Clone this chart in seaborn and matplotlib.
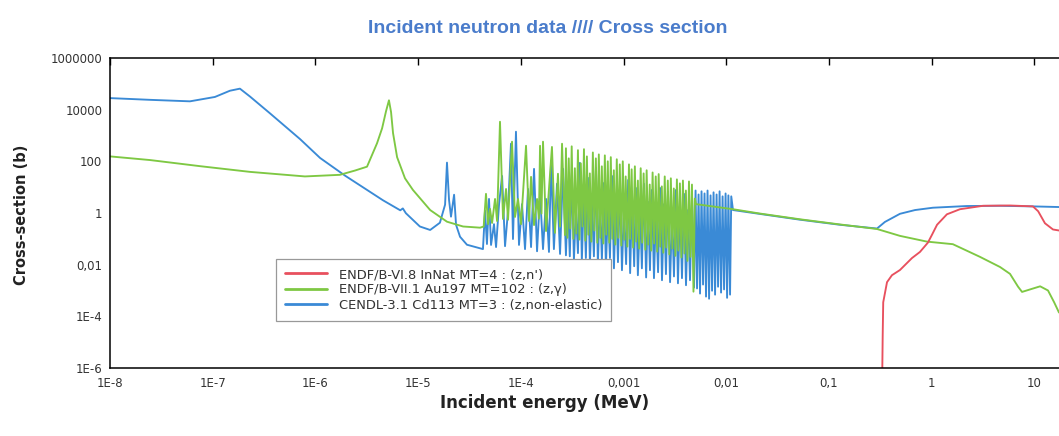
import matplotlib
matplotlib.use("Agg")
import numpy as np
import pandas as pd
import matplotlib.pyplot as plt
from matplotlib.lines import Line2D
from matplotlib.ticker import NullLocator, FixedLocator, FixedFormatter
import seaborn as sns

# ---------------- data (energy in MeV, cross-section in barns) ----------------
TITLE = "Incident neutron data //// Cross section"
XLABEL = "Incident energy (MeV)"
YLABEL = "Cross-section (b)"

series_names = [
    "ENDF/B-VI.8 InNat MT=4 : (z,n')",
    "ENDF/B-VII.1 Au197 MT=102 : (z,\u03b3)",
    "CENDL-3.1 Cd113 MT=3 : (z,non-elastic)",
]
series_colors = ["#e8505e", "#7ec843", "#3a8ad6"]

# In-nat (n,n') : red
red_energy = [0.329, 0.334, 0.338, 0.368, 0.411, 0.492, 0.575, 0.644, 0.77, 0.92, 1.01,
              1.13, 1.41, 1.89, 3.17, 5.8, 9.7, 10.9, 12.7, 15.2, 17.4]
red_xs = [1e-7, 1.8e-5, 3.5e-4, 2.1e-3, 3.9e-3, 6.2e-3, 0.0115, 0.018, 0.031, 0.071, 0.145,
          0.35, 0.89, 1.4, 1.9, 1.95, 1.8, 1.17, 0.40, 0.23, 0.21]

# Au197 capture : green
green_energy = [
    1e-8, 2.45e-8, 7.5e-8, 2.31e-7, 7.9e-7, 1.73e-6, 2.43e-6, 3.18e-6, 3.98e-6, 4.46e-6,
    4.87e-6, 5.2e-6, 5.45e-6, 5.7e-6, 6.24e-6, 7.45e-6, 8.9e-6, 1.31e-5, 1.91e-5, 2.74e-5,
    4.01e-5, 4.35e-5,
    4.58e-5, 4.80e-5, 5.01e-5, 5.25e-5, 5.61e-5, 5.87e-5, 6.27e-5, 6.71e-5, 7.18e-5, 7.51e-5,
    8.21e-5, 8.78e-5, 9.39e-5, 1.005e-4, 1.124e-4, 1.202e-4, 1.258e-4, 1.345e-4, 1.439e-4,
    1.50e-4, 1.539e-4, 1.59e-4, 1.645e-4, 1.76e-4, 1.88e-4, 2.01e-4, 2.15e-4, 2.30e-4,
    2.41e-4, 2.52e-4, 2.69e-4,
    2.75e-4, 2.84e-4, 2.93e-4, 3.03e-4, 3.13e-4, 3.25e-4, 3.36e-4, 3.47e-4, 3.60e-4, 3.72e-4,
    3.84e-4, 3.98e-4, 4.12e-4, 4.25e-4, 4.40e-4, 4.55e-4, 4.70e-4, 4.86e-4, 5.03e-4, 5.20e-4,
    5.38e-4, 5.56e-4, 5.75e-4, 5.95e-4, 6.15e-4, 6.36e-4, 6.58e-4, 6.80e-4, 7.03e-4, 7.27e-4,
    7.52e-4, 7.78e-4, 8.05e-4, 8.32e-4, 8.60e-4, 8.90e-4, 9.20e-4, 9.52e-4, 9.84e-4, 1.02e-3,
    1.05e-3, 1.09e-3, 1.13e-3, 1.16e-3, 1.20e-3, 1.24e-3, 1.29e-3, 1.33e-3, 1.38e-3, 1.42e-3,
    1.47e-3, 1.52e-3, 1.57e-3, 1.63e-3, 1.68e-3, 1.74e-3, 1.80e-3, 1.86e-3, 1.92e-3, 1.99e-3,
    2.06e-3, 2.13e-3, 2.20e-3, 2.28e-3, 2.36e-3, 2.44e-3, 2.52e-3, 2.61e-3, 2.70e-3, 2.79e-3,
    2.89e-3, 2.99e-3, 3.09e-3, 3.20e-3, 3.31e-3, 3.42e-3, 3.54e-3, 3.66e-3, 3.79e-3, 3.92e-3,
    4.05e-3, 4.19e-3, 4.34e-3, 4.49e-3, 4.64e-3, 4.80e-3, 4.95e-3,
    5.08e-3, 0.01164, 0.0213, 0.0523, 0.128, 0.294, 0.492, 0.90, 1.61, 2.96, 4.64, 5.8,
    6.95, 7.6, 9.1, 11.4, 13.6, 15.6, 17.4,
]
green_xs = [
    155, 112, 65, 39, 26, 30, 44, 62, 500, 1900,
    8700, 2.3e4, 8100, 1230, 145, 22, 7.8, 1.3, 0.46, 0.30,
    0.27, 0.30,
    5.5, 0.37, 1.45, 0.41, 3.5, 0.49, 3400, 0.59, 8.5, 0.55,
    575, 0.70, 3.5, 0.37, 400, 0.49, 25, 0.34, 3.5,
    0.6, 400, 0.95, 575, 0.20, 8.5, 360, 0.17, 33,
    0.3, 480, 0.14,
    320, 0.11, 130, 0.25, 380, 0.10, 54, 0.16, 270, 0.093,
    83, 0.30, 295, 0.085, 155, 0.145, 34, 0.078, 220, 0.21,
    130, 0.071, 185, 0.11, 64, 0.066, 170, 0.145, 100, 0.071,
    145, 0.10, 45, 0.060, 120, 0.11, 76, 0.055, 100, 0.093,
    26, 0.050, 76, 0.10, 49, 0.046, 64, 0.078, 18, 0.042,
    54, 0.071, 34, 0.038, 45, 0.060, 12.6, 0.035, 37, 0.066,
    26, 0.032, 32, 0.050, 10.7, 0.029, 26, 0.046, 18, 0.025,
    22, 0.042, 8.9, 0.022, 20, 0.035, 14, 0.019, 18, 0.027,
    7.4, 0.014, 16.6, 0.020, 12.6, 9e-4, 3.6,
    2.2, 1.4, 0.95, 0.57, 0.36, 0.24, 0.13, 0.078, 0.062, 0.020, 8.1e-3, 4.4e-3,
    1.4e-3, 8.8e-4, 1.1e-3, 1.45e-3, 1.0e-3, 3.5e-4, 1.4e-4,
]

# Cd113 non-elastic : blue
blue_energy = [
    1e-8, 2.45e-8, 6.0e-8, 1.05e-7, 1.47e-7, 1.84e-7, 2.31e-7, 3.61e-7, 7.1e-7, 1.11e-6,
    1.94e-6, 4.55e-6, 6.7e-6, 7.1e-6, 7.6e-6, 1.04e-5, 1.31e-5, 1.63e-5, 1.83e-5, 1.91e-5,
    2.0e-5, 2.09e-5, 2.24e-5, 2.34e-5, 2.56e-5, 2.99e-5, 4.28e-5,
    4.48e-5, 4.68e-5, 4.90e-5, 5.13e-5, 5.48e-5, 5.74e-5, 6.14e-5, 6.57e-5, 7.02e-5, 7.51e-5,
    8.02e-5, 8.39e-5, 8.97e-5, 9.60e-5, 1.027e-4, 1.099e-4, 1.175e-4, 1.258e-4, 1.345e-4,
    1.439e-4, 1.539e-4, 1.645e-4, 1.76e-4, 1.88e-4, 1.97e-4, 2.10e-4, 2.25e-4, 2.41e-4,
    2.58e-4, 2.75e-4,
    2.87e-4, 3.00e-4, 3.14e-4, 3.29e-4, 3.44e-4, 3.60e-4, 3.76e-4, 3.93e-4, 4.11e-4, 4.30e-4,
    4.50e-4, 4.71e-4, 4.92e-4, 5.15e-4, 5.39e-4, 5.63e-4, 5.89e-4, 6.16e-4, 6.45e-4, 6.74e-4,
    7.05e-4, 7.38e-4, 7.72e-4, 8.07e-4, 8.44e-4, 8.83e-4, 9.24e-4, 9.66e-4, 1.01e-3, 1.06e-3,
    1.11e-3, 1.16e-3, 1.21e-3, 1.27e-3, 1.32e-3, 1.38e-3, 1.45e-3, 1.51e-3, 1.58e-3, 1.66e-3,
    1.73e-3, 1.81e-3, 1.89e-3, 1.98e-3, 2.07e-3, 2.17e-3, 2.27e-3, 2.37e-3, 2.48e-3, 2.59e-3,
    2.71e-3, 2.84e-3, 2.97e-3, 3.10e-3, 3.24e-3, 3.39e-3, 3.55e-3, 3.71e-3, 3.88e-3, 4.06e-3,
    4.25e-3, 4.44e-3, 4.65e-3, 4.86e-3,
    5.03e-3, 5.20e-3, 5.38e-3, 5.56e-3, 5.75e-3, 5.95e-3, 6.15e-3, 6.36e-3, 6.58e-3, 6.81e-3,
    7.04e-3, 7.28e-3, 7.53e-3, 7.79e-3, 8.06e-3, 8.33e-3, 8.62e-3, 8.91e-3, 9.22e-3, 9.53e-3,
    9.86e-3, 1.02e-2, 1.05e-2, 1.09e-2, 1.12e-2,
    0.01164, 0.0213, 0.0523, 0.128, 0.294, 0.351, 0.492, 0.69, 1.03, 2.21, 4.64, 9.7, 17.4,
]
blue_xs = [
    2.8e4, 2.4e4, 2.1e4, 3.1e4, 5.4e4, 6.5e4, 3.2e4, 7.2e3, 720, 135,
    28, 3.1, 1.27, 1.5, 0.98, 0.30, 0.22, 0.42, 2.1, 89,
    3.2, 0.72, 5.1, 0.35, 0.12, 0.059, 0.040,
    1.25, 0.063, 3.5, 0.058, 0.37, 0.048, 2.2, 27, 0.052, 1.25,
    480, 0.098, 1400, 0.058, 2.2, 0.040, 8.5, 0.048, 51,
    0.033, 5.5, 0.040, 3.5, 0.031, 105, 0.040, 13.5, 0.026,
    51, 0.023,
    3.8, 0.021, 36, 0.015, 1.55, 0.028, 87, 0.014, 6.0, 0.018,
    23, 0.0115, 2.5, 0.021, 56, 0.0105, 3.8, 0.015, 14.5, 0.0087,
    1.55, 0.018, 27, 0.0072, 4.6, 0.0125, 11, 0.0061, 1.85, 0.0105,
    19, 0.0047, 3.8, 0.0087, 9.3, 0.0039, 1.3, 0.0072, 13.5, 0.0032,
    2.7, 0.0061, 7.8, 0.0030, 1.1, 0.0051, 9.3, 0.0025, 2.2, 0.0043,
    6.6, 0.0021, 1.0, 0.0035, 7.8, 0.0019, 1.85, 0.0030, 5.5, 0.0016,
    1.3, 0.0025, 4.6, 0.0013,
    7.4, 0.0012, 5.2, 7.6e-4, 6.9, 0.0017, 5.7, 5.8e-4, 7.4, 4.8e-4,
    4.8, 9.8e-4, 6.3, 6.9e-4, 5.2, 0.0014, 6.9, 8.3e-4, 4.4, 0.0011,
    5.7, 5.2e-4, 4.8, 6.9e-4, 4.4,
    1.3, 0.92, 0.55, 0.35, 0.25, 0.45, 0.93, 1.3, 1.6, 1.86, 1.9, 1.8, 1.7,
]

xtick_values = [1e-8, 1e-7, 1e-6, 1e-5, 1e-4, 1e-3, 1e-2, 1e-1, 1, 10]
xtick_labels = ["1E-8", "1E-7", "1E-6", "1E-5", "1E-4", "0,001", "0,01", "0,1", "1", "10"]
ytick_values = [1e-6, 1e-4, 1e-2, 1, 100, 1e4, 1e6]
ytick_labels = ["1E-6", "1E-4", "0,01", "1", "100", "10000", "1000000"]

# ---------------- figure ----------------
sns.set_style("white")
plt.rcParams["font.family"] = ["DejaVu Sans"]
plt.rcParams["path.simplify"] = False

fig = plt.figure(figsize=(10.59, 4.36), dpi=100)
ax = fig.add_axes([0.1039, 0.156, 0.8961, 0.711])
ax.set_xscale("log")
ax.set_yscale("log")

frames = {
    series_names[0]: pd.DataFrame({"energy": red_energy, "xs": red_xs}),
    series_names[1]: pd.DataFrame({"energy": green_energy, "xs": green_xs}),
    series_names[2]: pd.DataFrame({"energy": blue_energy, "xs": blue_xs}),
}
color_map = dict(zip(series_names, series_colors))

# draw blue first, then green, then red
for name in [series_names[2], series_names[1], series_names[0]]:
    sns.lineplot(data=frames[name], x="energy", y="xs", ax=ax, color=color_map[name],
                 linewidth=1.35, estimator=None, sort=False, legend=False)

ax.set_xlim(1e-8, 17.4)
ax.set_ylim(1e-6, 1e6)

ax.xaxis.set_major_locator(FixedLocator(xtick_values))
ax.xaxis.set_major_formatter(FixedFormatter(xtick_labels))
ax.yaxis.set_major_locator(FixedLocator(ytick_values))
ax.yaxis.set_major_formatter(FixedFormatter(ytick_labels))
ax.xaxis.set_minor_locator(NullLocator())
ax.yaxis.set_minor_locator(NullLocator())
ax.tick_params(axis="both", which="major", direction="inout", length=9, width=1.0,
               color="black", labelsize=8.5, labelcolor="#333333")
ax.tick_params(axis="x", pad=2)
ax.tick_params(axis="y", pad=1)
ax.grid(False)

for side in ["left", "bottom", "top"]:
    ax.spines[side].set_visible(True)
    ax.spines[side].set_color("black")
    ax.spines[side].set_linewidth(1.1)
ax.spines["right"].set_visible(False)

top = ax.secondary_xaxis("top")
top.xaxis.set_major_locator(FixedLocator(xtick_values))
top.xaxis.set_minor_locator(NullLocator())
top.tick_params(axis="x", direction="in", length=5, width=1.0, labeltop=False, color="black")
top.spines["top"].set_visible(False)

ax.set_xlabel(XLABEL, fontsize=12, fontweight="bold", color="#222222")
ax.xaxis.set_label_coords(0.458, -0.112)
ax.xaxis.label.set_va("center")
ax.set_ylabel(YLABEL, fontsize=10.5, fontweight="bold", color="#222222")
ax.yaxis.set_label_coords(-0.093, 0.494)
ax.yaxis.label.set_va("center")

fig.text(0.5175, 0.935, TITLE, ha="center", va="center", fontsize=14,
         fontweight="bold", color="#4a7ccb", family=["Liberation Sans", "DejaVu Sans"])

handles = [Line2D([0], [0], color=c, lw=2.0) for c in series_colors]
leg = ax.legend(handles, series_names, loc="upper left", bbox_to_anchor=(0.175, 0.352),
                borderaxespad=0, frameon=True, fancybox=False, edgecolor="#999999",
                fontsize=9.4, handlelength=3.2, handletextpad=0.9, labelspacing=0.18,
                borderpad=0.7, framealpha=1.0)
leg.get_frame().set_linewidth(0.9)
for t in leg.get_texts():
    t.set_color("#333333")

fig.savefig("out.png", dpi=100)
